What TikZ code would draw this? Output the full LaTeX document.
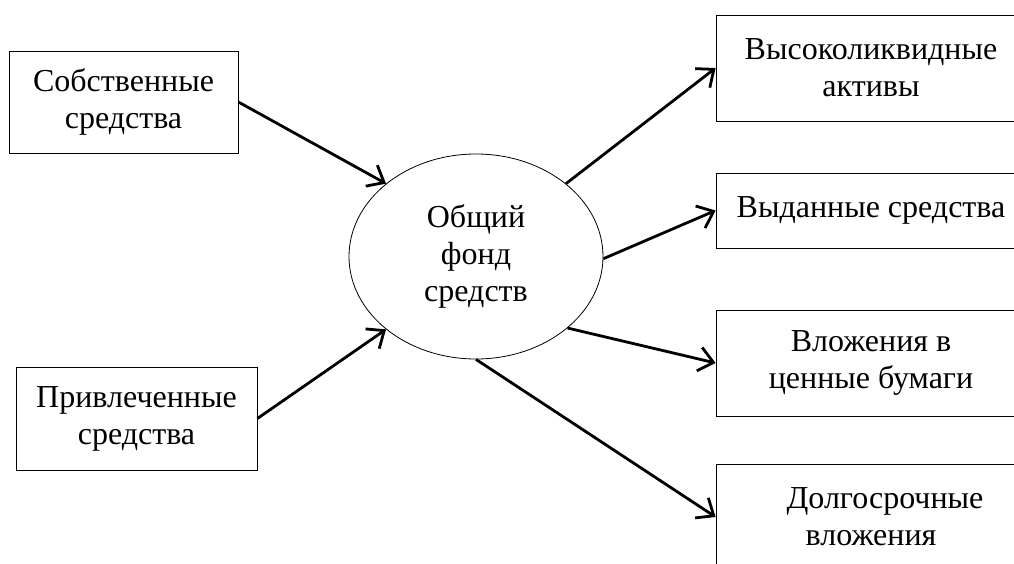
\documentclass[tikz,border=0pt]{standalone}
\usepackage{fontspec}
\setmainfont{Liberation Serif}
\usetikzlibrary{shapes.geometric,arrows.meta}

\tikzset{
   box/.style={draw, line width=0.8pt, rectangle, align=center, inner sep=0pt},
   fund/.style={draw, line width=0.8pt, ellipse, align=center, inner sep=0pt,
      minimum width=254pt, minimum height=205pt},
   flow/.style={line width=2.8pt,
      -{Straight Barb[length=9pt, width=15pt, scale=1.6]}}
}

\begin{document}
\begin{tikzpicture}[x=1pt, y=-1pt, font=\fontsize{32}{37}\selectfont]
      \clip (0,0) rectangle (1014,564);
      \def \Boxes {
         own/123.5/102/229/102/{Собственные\\средства},
         borrowed/136.5/418.5/241/103/{Привлеченные\\средства},
         liquid/871/68/310/106/{Высоколиквидные\\активы},
         issued/871/210.5/310/75/{Выданные средства},
         securities/871/363/310/106/{Вложения в\\ценные бумаги},
         longterm/871/517/310/106/{\hspace*{28pt}Долгосрочные\\вложения}}
      \def \Edges {
         own.east/fund.141,
         borrowed.east/fund.219,
         fund.39/liquid.west,
         fund.359/issued.west,
         fund.322/securities.west,
         fund.south/longterm.west}
      \node[fund] (fund) at (476, 256.5) {Общий\\фонд\\средств};
      \foreach \u / \x / \y / \w / \h / \t in \Boxes {
         \node[box, minimum width=\w pt, minimum height=\h pt] (\u) at (\x, \y) {\t};
      }
      \foreach \u / \v in \Edges {
         \path[draw, flow] (\u) -- (\v);
      }
   \end{tikzpicture}
\end{document}
